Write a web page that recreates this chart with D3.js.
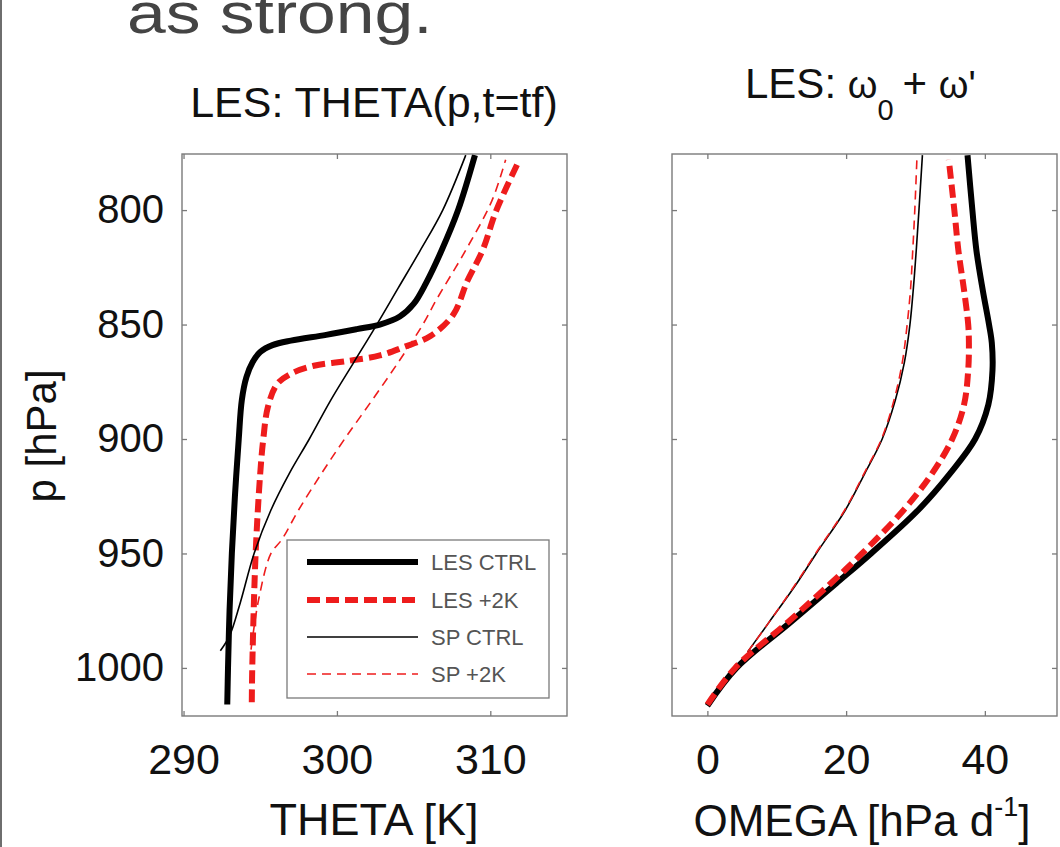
<!DOCTYPE html>
<html>
<head>
<meta charset="utf-8">
<script src="https://cdn.jsdelivr.net/npm/d3@7"></script>
<style>
  html, body { margin: 0; padding: 0; background: #fff; }
  svg { display: block; font-family: "Liberation Sans", Arial, Helvetica, sans-serif; }
</style>
</head>
<body>
<svg id="chart" width="1060" height="847"></svg>
<script>
// Tick values
const pTicks = [800, 850, 900, 950, 1000];
const thetaTicks = [290, 300, 310];
const omegaTicks = [0, 20, 40];

// Legend entries
const seriesNames = ["LES CTRL", "LES +2K", "SP CTRL", "SP +2K"];

// Potential temperature profiles THETA(p) [K]
const lesCtrlThetaP = [1016, 1000, 975, 950, 925, 900, 883, 873, 866.5, 862, 859, 857, 854.5, 852, 850, 846.5, 841, 832, 818, 800, 776];
const lesCtrlTheta  = [292.85, 292.9, 293.0, 293.15, 293.35, 293.6, 293.8, 294.1, 294.5, 295.0, 295.8, 297.0, 299.3, 301.3, 302.8, 304.1, 305.0, 305.8, 306.8, 307.9, 309.0];

const les2kThetaP = [1015, 1000, 950, 915, 900, 886, 876, 871.5, 868, 866, 863.5, 860, 855, 845.5, 831, 817.5, 800, 778];
const les2kTheta  = [294.45, 294.48, 294.7, 295.0, 295.2, 295.5, 296.1, 297.0, 298.5, 300.6, 302.8, 304.3, 306.1, 307.6, 308.5, 309.5, 310.4, 311.9];

const spCtrlThetaP = [992.5, 986, 971.5, 950, 931, 915, 900, 883, 866.5, 850, 834, 818, 800, 776];
const spCtrlTheta  = [292.4, 293.0, 293.7, 294.6, 295.7, 296.9, 298.2, 299.6, 301.1, 302.6, 304.0, 305.4, 306.9, 308.4];

const sp2kThetaP = [992, 970, 950, 944, 931, 915, 900, 883, 866.5, 850, 839, 817.5, 796, 778];
const sp2kTheta  = [294.4, 294.9, 295.7, 296.4, 297.5, 299.0, 300.5, 302.3, 304.0, 305.6, 306.5, 308.4, 310.1, 311.0];

// Large-scale vertical velocity profiles OMEGA(p) [hPa/d]
const lesCtrlOmegaP = [1016.5, 1000, 980, 963, 950, 931, 915, 900, 885, 870, 858, 850, 835, 818, 800, 776];
const lesCtrlOmega  = [0, 4.2, 12.0, 18.6, 23.6, 30.4, 35.0, 38.6, 40.5, 41.1, 41.0, 40.6, 39.7, 38.8, 38.2, 37.5];

const les2kOmegaP = [1016, 1000, 980, 963, 950, 931, 915, 900, 885, 870, 858, 850, 835, 818, 800, 778];
const les2kOmega  = [0, 4.0, 11.6, 17.8, 22.3, 28.3, 32.4, 35.3, 37.0, 37.6, 37.7, 37.6, 37.0, 36.2, 35.6, 34.8];

const spCtrlOmegaP = [993, 980, 963, 950, 931, 915, 900, 883, 866.5, 850, 834, 818, 800, 776];
const spCtrlOmega  = [5.8, 8.9, 12.9, 15.7, 19.9, 22.7, 25.2, 27.1, 28.4, 29.2, 29.7, 30.1, 30.5, 31.0];

const sp2kOmegaP = [993, 980, 963, 950, 931, 915, 900, 883, 866.5, 850, 834, 818, 800, 778];
const sp2kOmega  = [5.8, 8.9, 12.8, 15.6, 19.8, 22.6, 25.1, 26.9, 28.1, 28.8, 29.3, 29.6, 29.9, 30.2];

// Line styles for the four experiments
const styles = [
  { color: "#000000", width: 6,   dash: null },
  { color: "#ee1c1c", width: 6,   dash: "13,6" },
  { color: "#000000", width: 1.6, dash: null },
  { color: "#ee1c1c", width: 1.6, dash: "9,6" }
];

const svg = d3.select("#chart");
svg.append("rect").attr("width", 1060).attr("height", 847).attr("fill", "#fff");

// slide edge
svg.append("line").attr("x1", 1).attr("x2", 1).attr("y1", 0).attr("y2", 847)
  .attr("stroke", "#6e6e6e").attr("stroke-width", 2);

// slide text (end of a sentence above the figure)
svg.append("text").attr("transform", "translate(127,33) scale(1.2,1)")
  .attr("font-size", 58).attr("fill", "#444")
  .text("as strong.");

const plotTop = 154, plotBottom = 716;
const y = d3.scaleLinear().domain([775.5, 1021]).range([plotTop, plotBottom]);
const xTheta = d3.scaleLinear().domain([289.9, 315]).range([182, 567]);
const xOmega = d3.scaleLinear().domain([-5.1, 50.4]).range([672, 1057]);

const zip = (ps, vs) => ps.map((p, i) => ({ p, v: vs[i] }));

function drawPanel(x, xt, series, showYLabels) {
  const [x0, x1] = x.range();
  const g = svg.append("g");

  const clipId = "clip" + Math.round(x0);
  svg.append("clipPath").attr("id", clipId)
    .append("rect").attr("x", x0).attr("y", plotTop).attr("width", x1 - x0).attr("height", plotBottom - plotTop);

  // axes with inward ticks
  const tickStyle = size => sel => {
    sel.select(".domain").remove();
    sel.selectAll(".tick line").attr("stroke", "#7a7a7a").attr("stroke-width", 1.3);
    sel.selectAll("text").attr("fill", "#111").attr("font-size", size).attr("font-family", null);
  };

  g.append("g").attr("transform", `translate(0,${plotBottom})`)
    .call(d3.axisBottom(x).tickValues(xt).tickSize(-5).tickPadding(27).tickFormat(d3.format("d")))
    .call(tickStyle(43));
  g.append("g").attr("transform", `translate(0,${plotTop})`)
    .call(d3.axisTop(x).tickValues(xt).tickSize(-5).tickFormat(""))
    .call(tickStyle(43));
  g.append("g").attr("transform", `translate(${x0},0)`)
    .call(d3.axisLeft(y).tickValues(pTicks).tickSize(-5).tickPadding(18)
      .tickFormat(showYLabels ? d3.format("d") : ""))
    .call(tickStyle(40));
  g.append("g").attr("transform", `translate(${x1},0)`)
    .call(d3.axisRight(y).tickValues(pTicks).tickSize(-5).tickFormat(""))
    .call(tickStyle(40));

  const line = d3.line().x(d => x(d.v)).y(d => y(d.p)).curve(d3.curveCatmullRom.alpha(0.5));
  const lines = g.append("g").attr("clip-path", `url(#${clipId})`);
  series.forEach((s, i) => {
    lines.append("path").datum(s)
      .attr("d", line)
      .attr("fill", "none")
      .attr("stroke", styles[i].color)
      .attr("stroke-width", styles[i].width)
      .attr("stroke-dasharray", styles[i].dash)
      .attr("stroke-linejoin", "round");
  });

  g.append("rect").attr("x", x0).attr("y", plotTop).attr("width", x1 - x0).attr("height", plotBottom - plotTop)
    .attr("fill", "none").attr("stroke", "#7a7a7a").attr("stroke-width", 1.4);
  return g;
}

drawPanel(xTheta, thetaTicks, [
  zip(lesCtrlThetaP, lesCtrlTheta),
  zip(les2kThetaP, les2kTheta),
  zip(spCtrlThetaP, spCtrlTheta),
  zip(sp2kThetaP, sp2kTheta)
], true);

drawPanel(xOmega, omegaTicks, [
  zip(lesCtrlOmegaP, lesCtrlOmega),
  zip(les2kOmegaP, les2kOmega),
  zip(spCtrlOmegaP, spCtrlOmega),
  zip(sp2kOmegaP, sp2kOmega)
], false);

// legend
const leg = svg.append("g");
leg.append("rect").attr("x", 287).attr("y", 540).attr("width", 262).attr("height", 158)
  .attr("fill", "#fff").attr("stroke", "#7a7a7a").attr("stroke-width", 1.3);
const legRows = [562, 600, 637, 674];
seriesNames.forEach((name, i) => {
  leg.append("line").attr("x1", 307).attr("x2", 418).attr("y1", legRows[i]).attr("y2", legRows[i])
    .attr("stroke", styles[i].color).attr("stroke-width", styles[i].width)
    .attr("stroke-dasharray", styles[i].dash);
  leg.append("text").attr("x", 431).attr("y", legRows[i]).attr("dy", "0.36em")
    .attr("font-size", 22).attr("fill", "#555").text(name);
});

// titles
svg.append("text").attr("x", 374).attr("y", 117).attr("text-anchor", "middle")
  .attr("font-size", 43).attr("fill", "#111").text("LES: THETA(p,t=tf)");

const t2 = svg.append("text").attr("x", 745).attr("y", 98).attr("font-size", 42).attr("fill", "#111");
t2.append("tspan").text("LES: ");
t2.append("tspan").attr("font-size", 38).text("ω");
t2.append("tspan").attr("font-size", 29).attr("dy", 22).text("0");
t2.append("tspan").attr("dy", -22).attr("dx", 9).text("+ ");
t2.append("tspan").attr("font-size", 38).text("ω'");

// axis labels
svg.append("text").attr("x", 374).attr("y", 835).attr("text-anchor", "middle")
  .attr("font-size", 45).attr("fill", "#111").text("THETA [K]");

const xl2 = svg.append("text").attr("x", 862).attr("y", 836).attr("text-anchor", "middle")
  .attr("font-size", 44).attr("fill", "#111");
xl2.append("tspan").text("OMEGA [hPa d");
xl2.append("tspan").attr("font-size", 27).attr("dy", -20).text("-1");
xl2.append("tspan").attr("dy", 20).text("]");

svg.append("text").attr("transform", "translate(56,436) rotate(-90)")
  .attr("text-anchor", "middle").attr("font-size", 42).attr("fill", "#111")
  .text("p [hPa]");
</script>
</body>
</html>
